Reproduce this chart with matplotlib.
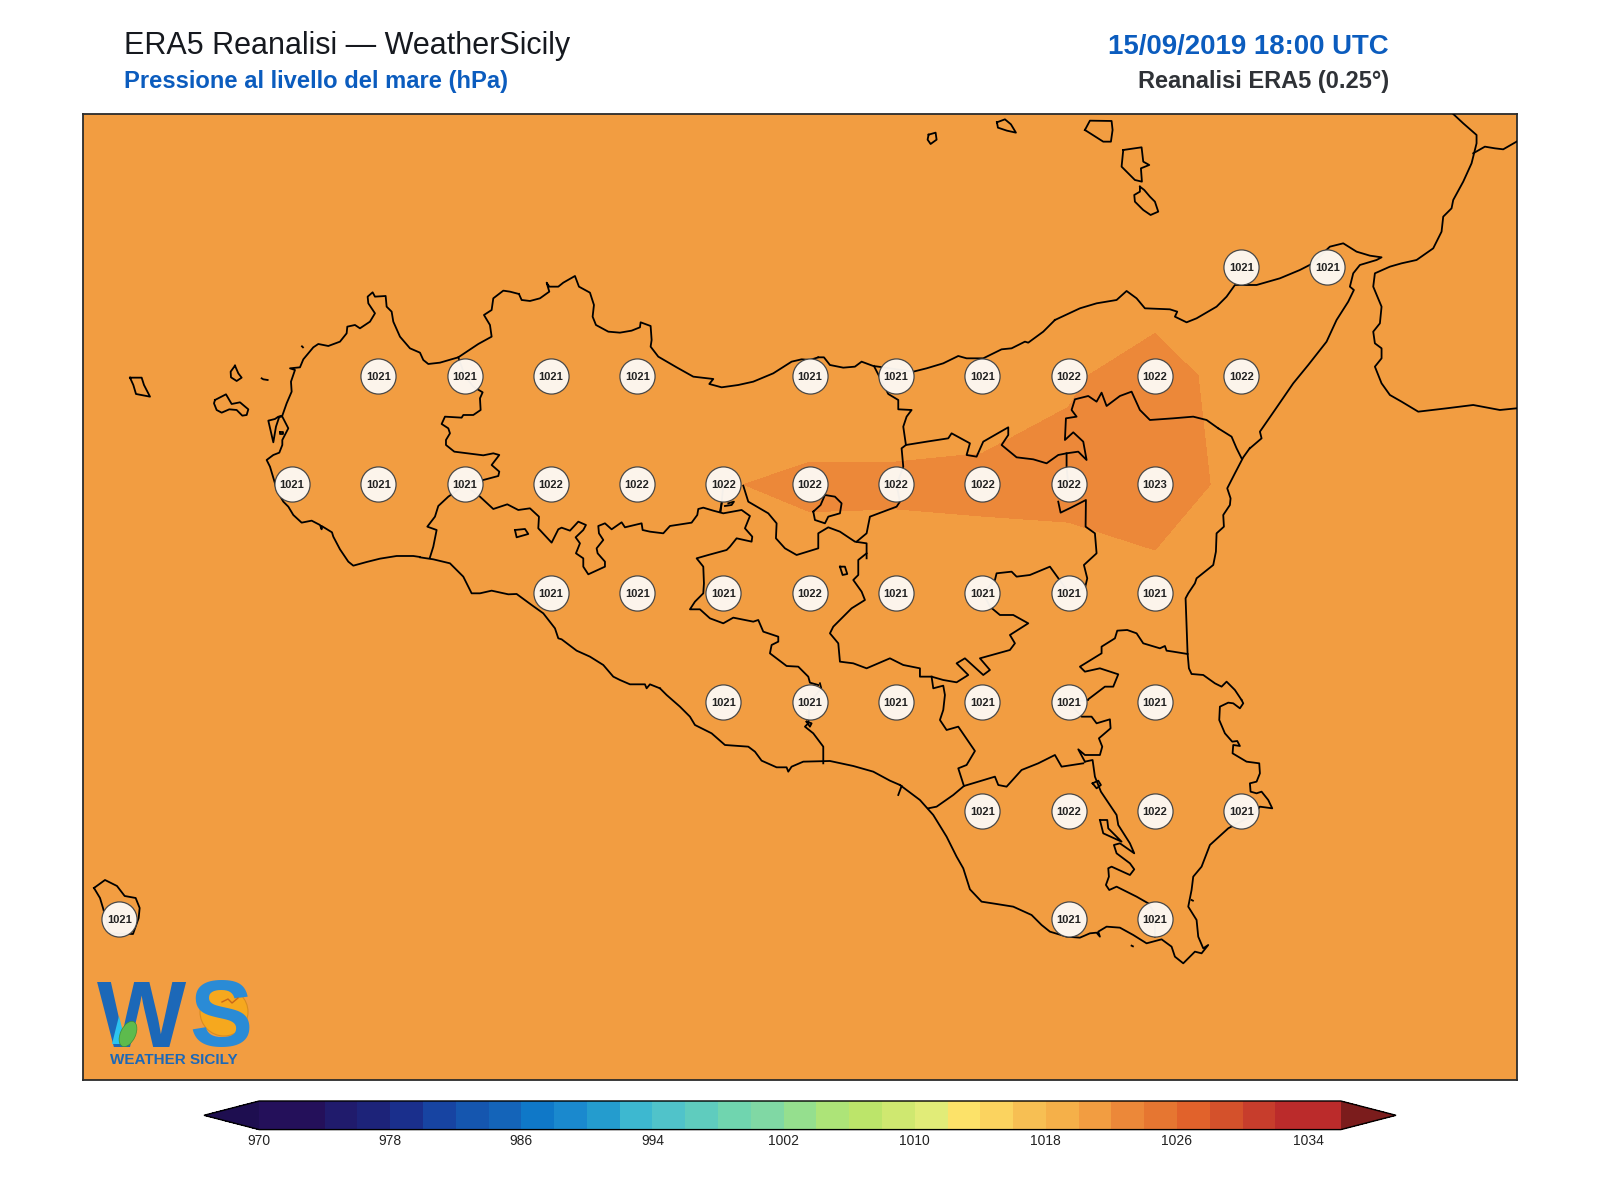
import numpy as np
import matplotlib
matplotlib.use('Agg')
import matplotlib.pyplot as plt
from matplotlib.colors import ListedColormap, BoundaryNorm
from matplotlib.patches import Circle, Ellipse, Polygon

plt.rcParams['font.family'] = ['Liberation Sans', 'DejaVu Sans']

# ERA5 grid, 0.25 deg
lons = [11.75 + 0.25 * i for i in range(19)]
lats = [38.75, 38.5, 38.25, 38.0, 37.75, 37.5, 37.25, 37.0, 36.75, 36.5, 36.25]
pressure = [
    [1021.1] * 19,
    [1021.1] * 12 + [1021.2, 1021.2, 1021.2, 1021.2, 1021.1, 1021.1, 1021.1],
    [1021.1] * 12 + [1021.3, 1021.4, 1021.4, 1021.3, 1021.2, 1021.1, 1021.1],
    [1021.1, 1021.1, 1021.1, 1021.1, 1021.2, 1021.2, 1021.2, 1021.2, 1021.3, 1021.38, 1021.23,
     1021.375, 1021.89, 1022.38, 1021.62, 1021.4, 1021.2, 1021.1, 1021.1],
    [1021.1, 1021.1, 1021.1, 1021.3, 1021.4, 1021.45, 1021.55, 1021.7, 1021.95, 1022.16, 1022.2,
     1022.25, 1022.27, 1022.8, 1021.55, 1021.4, 1021.2, 1021.1, 1021.1],
    [1021.1, 1021.1, 1021.1, 1021.2, 1021.2, 1021.3, 1021.3, 1021.4, 1021.45, 1021.52, 1021.31,
     1021.39, 1021.49, 1021.47, 1021.4, 1021.3, 1021.2, 1021.1, 1021.1],
    [1021.1, 1021.1, 1021.1, 1021.1, 1021.2, 1021.2, 1021.2, 1021.2, 1021.3, 1021.4, 1021.3,
     1021.3, 1021.4, 1021.4, 1021.3, 1021.2, 1021.1, 1021.1, 1021.1],
    [1021.1, 1021.1, 1021.1, 1021.1, 1021.1, 1021.1, 1021.2, 1021.2, 1021.2, 1021.3, 1021.3,
     1021.45, 1021.55, 1021.6, 1021.4, 1021.2, 1021.1, 1021.1, 1021.1],
    [1021.1, 1021.0, 1021.1, 1021.1, 1021.1, 1021.1, 1021.1, 1021.1, 1021.2, 1021.2, 1021.2,
     1021.2, 1021.3, 1021.3, 1021.2, 1021.1, 1021.1, 1021.1, 1021.1],
    [1021.1] * 19,
    [1021.1] * 19,
]

# grid points that carry a label
label_lons = {
    38.25: [15.25, 15.5],
    38.0: [12.75, 13.0, 13.25, 13.5, 14.0, 14.25, 14.5, 14.75, 15.0, 15.25],
    37.75: [12.5, 12.75, 13.0, 13.25, 13.5, 13.75, 14.0, 14.25, 14.5, 14.75, 15.0],
    37.5: [13.25, 13.5, 13.75, 14.0, 14.25, 14.5, 14.75, 15.0],
    37.25: [13.75, 14.0, 14.25, 14.5, 14.75, 15.0],
    37.0: [14.5, 14.75, 15.0, 15.25],
    36.75: [12.0, 14.75, 15.0],
}

levels = list(range(970, 1038, 2))
band_colors = ['#24105A', '#24105A', '#201B6C', '#1D2379', '#1A2F8C', '#1744A2', '#1556AF', '#1464B9',
               '#0F78C8', '#1A89CE', '#249CCE', '#3DB8D0', '#50C3CA', '#5FCCBE', '#70D5AF', '#80D8A4',
               '#95DF8E', '#ADE478', '#BCE56A', '#CFE870', '#E1EC78', '#FCE269', '#FBD35F', '#F7BF53',
               '#F5B049', '#F29D41', '#EC8839', '#E67631', '#E1622B', '#D4512B', '#C73D2C', '#BB2B2B',
               '#BB2B2B']
cbar_ticks = [970, 978, 986, 994, 1002, 1010, 1018, 1026, 1034]

# outlines, as 3x tile coordinates: tile origin, then points
tile_w = (120, 270)
tile_nw = (420, 270)
tile_c = (700, 320)
tile_ne = (1080, 110)
tile_e = (1040, 420)
tile_se = (900, 660)
tile_s = (660, 520)
tile_sw = (420, 440)

coast_w = [(900,861),(880,858),(830,858),(780,866),(740,876),(700,887),(685,875),(660,838),(640,800),(636,787),
           (605,768),(605,778),(600,765),(575,752),(545,758),(520,735),(505,710),(490,695),(470,660),(465,640),
           (450,590),(440,570),(460,555),(478,548),(487,525),(487,510),(505,475),(487,440),(475,440),(465,447),
           (445,452),(460,517),(468,470),(478,440),(487,437),(500,400),(515,365),(513,335),(525,300),(510,295),
           (540,292),(550,268),(580,232),(595,222),(625,228),(660,215),(680,190),(682,170),(705,165),(720,175),
           (750,155),(765,130),(745,100),(743,80),(758,67),(765,80),(797,78),(800,110),(815,125),(820,155),
           (840,200),(870,235),(900,248),(910,270),(925,282),(960,278),(1015,262),(1075,222),(1115,200),(1110,165),
           (1092,135),(1115,120),(1120,85),(1150,62),(1170,65),(1197,72)]
coast_nw = [(297,72),(305,90),(330,93),(360,85),(388,65),(380,38),(388,50),(415,50),(430,38),(465,18),(477,50),
            (510,68),(522,105),(518,140),(528,165),(565,185),(600,188),(635,182),(660,172),(662,157),(692,168),
            (695,210),(692,230),(715,260),(770,292),(820,320),(880,327),(868,342),(905,352),(955,345),(1000,335),
            (1060,310),(1115,275),(1145,268),(1170,270),(1195,262)]
coast_n = [(355,112),(372,112),(390,135),(430,143),(465,140),(485,125),(520,138),(535,140),(640,155),(680,145),
           (730,130),(775,108),(800,115),(850,115),(905,88),(935,85),(975,65),(985,68),(1030,35),(1065,0)]
coast_ne = [(-75,630),(0,595),(50,580),(110,570),(140,543),(170,565),(195,595),(270,598),(292,605),(285,620),
            (320,637),(350,625),(410,590),(440,560),(465,525),(530,525),(600,505),(660,480),(695,462),(750,410),
            (790,400),(830,425),(870,437),(905,442),(890,450),(840,465),(820,490),(810,530),(822,540),(805,575),
            (770,630),(740,695),(685,765),(640,820),(585,900),(540,965),(545,985),(510,1015)]
coast_e = [(630,84),(610,112),(585,160),(562,205),(572,235),(570,255),(550,285),(552,320),(530,340),(528,395),
           (520,435),(470,475),(465,490),(445,520),(437,535),(443,700),(447,745),(455,762),(490,765),(525,790),
           (545,800),(560,785),(585,810),(605,840)]
coast_se = [(1025,120),(1030,130),(1020,145),(1000,130),(985,128),(960,140),(958,180),(975,220),(997,245),(1012,243),
            (1020,258),(1000,255),(998,280),(1040,305),(1078,310),(1080,340),(1070,365),(1050,370),(1052,395),(1070,400),
            (1085,395),(1105,420),(1117,445),(1080,440),(1060,465),(985,505),(930,555),(905,620),(880,650),(875,690),
            (865,740),(890,780),(895,830),(910,865),(925,855),(905,880),(885,875),(850,910),(825,890),(815,860),
            (785,838),(740,850),(700,825),(660,803),(620,800),(595,815),(600,830),(590,818),(570,820),(540,833),
            (500,830),(450,815),(425,795),(395,765),(340,740),(290,732),(245,725),(210,688),(190,625),(170,590),
            (140,530),(100,465),(60,420),(0,375)]
coast_s = [(720,795),(690,782),(640,755),(580,738),(510,723),(430,725),(395,740),(385,755),(380,742),(350,742),
           (305,722),(285,695),(265,680),(195,675),(155,640),(105,615),(90,590),(60,560),(20,525),(0,505)]
coast_sw = [(720,745),(690,733),(680,745),(675,733),(630,733),(600,720),(580,710),(550,675),(510,650),(470,632),
            (425,598),(415,595),(405,565),(370,520),(335,495),(290,462),(265,463),(215,452),(180,460),(155,460),
            (130,410),(90,370),(40,358),(0,352)]
calabria = [(1120,12),(1150,40),(1190,75),(1190,100),(1175,160),(1150,215),(1120,270),(1115,295),(1090,320),(1085,365),
            (1060,415),(1010,450),(965,460),(930,470),(885,490),(880,530),(905,590),(900,640),(880,665),(885,700),
            (905,715),(905,745),(885,770),(905,820),(930,855),(965,875),(1015,905),(1100,895),(1180,885),(1260,900),
            (1310,895)]
calabria_inner = [(1180,130),(1215,110),(1245,115),(1270,118),(1310,95)]

marettimo = [(30,323),(65,323),(72,345),(90,380),(48,372),(40,345),(30,323)]
levanzo = [(345,287),(355,310),(365,323),(350,333),(333,322),(332,305),(345,287)]
favignana = [(285,390),(318,373),(335,402),(360,397),(385,418),(380,435),(367,437),(350,420),(328,418),(305,428),
             (290,420),(282,400),(285,390)]
formica = [(425,325),(430,328),(443,330)]
isola_fimmine = [(546,229),(549,232)]
stagnone_lake = [(480,485),(490,485),(490,493),(480,493),(480,485)]
panarea = [(15,60),(30,32),(95,33),(98,60),(93,95),(70,95),(15,60)]
lipari = [(130,120),(185,112),(190,155),(208,165),(183,175),(186,215),(165,210),(125,170),(130,120)]
vulcano = [(180,230),(193,240),(210,260),(225,275),(235,305),(212,315),(190,300),(165,275),(163,255),(180,245),(180,230)]
alicudi = [(26,44),(47,38),(50,59),(32,72),(23,59),(26,44)]
filicudi = [(21,37),(45,28),(63,43),(78,68),(51,62),(24,53),(21,37)]
pantelleria = [(12,54),(45,30),(81,48),(104,78),(137,84),(149,114),(146,144),(129,192),(60,190),(39,114),(30,84),(12,54)]

b_trapani = [(1015,262),(1035,318),(1060,350),(1088,367),(1080,385),(1082,420),(1060,435),(1030,435),(1025,443),(975,440),
             (965,462),(985,475),(990,490),(978,510),(978,525),(1003,545),(1090,556),(1120,550),(1138,555),(1115,585),
             (1138,605),(1135,618),(1090,630),(1035,645),(985,680),(955,708),(945,740),(922,770),(950,780),(940,830),
             (930,862)]
b_palermo = [(135,135),(180,170),(220,207),(262,193),(295,210),(330,205),(357,230),(355,265),(395,308),(415,268),
             (425,263),(450,272),(475,245),(498,255),(490,270),(467,292),(480,310),(468,340),(490,355),(490,380),
             (505,403),(555,380),(555,365),(533,340),(530,325),(550,300),(537,280),(535,258),(555,250),(575,268),
             (605,247),(615,262),(665,250),(668,270),(690,275),(730,280),(750,258),(815,248),(832,225),(835,207),
             (850,203),(880,212),(910,220),(965,210),(990,228),(975,265),(997,290),(995,305),(950,295),(930,320),
             (920,330),(865,345),(830,355),(850,380),(852,430),(850,460),(825,485),(810,508),(840,508),(870,535),
             (910,550),(940,533),(1000,545),(1015,540),(1030,575),(1075,590),(1075,605),(1055,615),(1050,640),(1100,678),
             (1135,680),(1165,710),(1170,728),(1195,735)]
b_madonie = [(910,135),(905,190),(900,215)]
b_madonie2 = [(925,190),(942,185),(935,195),(915,198)]
lake_sw = [(285,270),(315,267),(325,282),(290,292),(285,270)]
b_gela = [(480,490),(484,505),(450,547),(445,610),(435,620),(460,640),(490,680),(490,730)]
gela_loop = [(440,605),(455,610),(450,620),(440,605)]
b_enna_n = [(130,497),(145,545),(205,580),(230,610),(228,655),(255,685),(290,705),(355,685),(355,640),(385,622),
            (420,635),(465,665),(500,670),(500,715)]
b_enna_s = [(620,100),(595,120),(595,165),(580,180),(605,215),(615,240),(575,265),(520,320),(510,340),(535,370),
            (540,425),(580,430),(620,445),(690,415),(730,435),(780,445),(780,470),(815,470),(850,480),(890,487),
            (925,465),(890,430),(915,415),(970,465),(990,450),(960,415),(1050,390),(1065,370),(1050,345),(1105,310),
            (1060,285),(1020,285),(990,260),(970,220),(1005,180),(1010,160),(1055,155),(1070,170),(1110,165),(1170,140),
            (1228,220),(1270,205)]
b_caltagirone = [(815,470),(820,505),(850,497),(855,525),(850,570),(840,600),(860,630),(895,620),(945,693),(920,735),
                 (895,745),(912,798)]
b_ragusa = [(805,865),(830,860),(880,825),(912,798),(1005,770),(1015,795),(1040,800),(1085,750),(1135,730),(1185,705),
            (1205,740),(1270,730)]
b_river = [(725,798),(715,825)]
lake_s = [(540,140),(555,140),(562,162),(548,165),(540,140)]
b_etna = [(135,505),(142,475),(132,435),(170,400),(165,340),(137,320),(138,240),(95,262),(62,278),(55,245)]
b_messina_end = [(535,25),(575,50),(590,85),(605,115)]
b_catania = [(443,702),(400,695),(380,692),(375,678),(360,685),(310,670),(290,640),(262,630),(232,632),(225,655),
             (185,680),(185,700),(120,740),(135,755),(180,745),(235,763),(220,800),(195,800),(145,838)]
b_siracusa = [(564,120),(507,128),(545,170),(575,170),(590,190),(630,178),(632,205),(597,235),(607,260),(600,285),
              (555,285),(535,268),(555,305)]
b_ragusa2 = [(555,305),(578,300),(585,350),(603,395),(650,465),(655,495),(690,550),(703,580),(660,550),(642,555),
             (650,580),(690,610),(703,628),(690,645),(635,620),(625,625),(627,650),(618,675),(628,690),(650,680),
             (710,710),(745,730),(765,760),(765,830)]
lagoon = [(600,480),(622,480),(625,505),(665,545),(610,520),(600,480)]
pond = [(578,370),(595,362),(603,375),(590,385),(578,370)]
dot_a = [(695,857),(699,859)]
dot_b = [(875,720),(879,722)]
b_messina = [(522,138),(565,222),(595,240),(595,268),(635,270),(620,290),(610,320),(618,375),(605,385),(610,440),
             (590,495),(600,545),(590,560),(510,590),(500,640),(470,665)]
b_nebrodi = [(618,375),(680,365),(745,355),(755,340),(810,370),(800,405),(830,410),(850,365),(890,342),(925,322),
             (925,345),(905,375),(950,412),(1000,418),(1040,430),(1075,405),(1100,400),(1135,395),(1160,420),(1150,365),
             (1120,337),(1095,360),(1098,295),(1130,290),(1115,270),(1125,238),(1165,228),(1190,245),(1205,218),(1220,258),
             (1260,228),(1295,215),(1320,270),(1350,300),(1420,295),(1480,290),(1520,300),(1555,325)]
b_nicosia = [(1100,400),(1100,440),(1105,495)]
enclave = [(340,575),(345,600),(375,610),(385,590),(420,580),(425,550),(405,530),(375,525),(362,555),(340,575)]
stub = [(65,550),(62,575)]

outlines = [
    (tile_w, [coast_w, marettimo, levanzo, favignana, formica, isola_fimmine, stagnone_lake, b_trapani]),
    (tile_nw, [coast_nw]),
    (tile_c, [coast_n, b_enna_n, b_messina, b_nebrodi, b_nicosia, enclave, stub]),
    (tile_ne, [coast_ne, calabria, calabria_inner, panarea, lipari, vulcano]),
    (tile_e, [coast_e, b_etna, b_messina_end, b_catania]),
    (tile_se, [coast_se, b_siracusa, b_ragusa2, lagoon, pond, dot_a, dot_b]),
    (tile_s, [coast_s, b_gela, gela_loop, b_enna_s, b_caltagirone, b_ragusa, b_river, lake_s]),
    (tile_sw, [coast_sw, b_palermo, b_madonie, b_madonie2, lake_sw]),
    ((920, 120), [alicudi]),
    ((990, 110), [filicudi]),
    ((90, 870), [pantelleria]),
]


def tile_to_lonlat(tile, pts):
    pts = np.array(pts, dtype=float)
    px = tile[0] + pts[:, 0] / 3
    py = tile[1] + pts[:, 1] / 3
    return 12 + (px - 119.4) / 345.2, 36.75 + (919.4 - py) / 434.9


W, H = 1600, 1200
fig = plt.figure(figsize=(16, 12), dpi=100)
ax = fig.add_axes([82.7 / W, 1 - 1080 / H, (1517 - 82.7) / W, (1080 - 114.3) / H])

cmap = ListedColormap(band_colors)
cmap.set_under('#1E0E50')
cmap.set_over('#7B1C1C')
norm = BoundaryNorm(levels, cmap.N)
cf = ax.contourf(lons, lats, pressure, levels=levels, cmap=cmap, norm=norm, extend='both')

for tile, shapes in outlines:
    for shape in shapes:
        x, y = tile_to_lonlat(tile, shape)
        ax.plot(x, y, color='black', lw=1.3, zorder=3, solid_joinstyle='round')

for lat, row_lons in label_lons.items():
    for lon in row_lons:
        val = pressure[lats.index(lat)][lons.index(lon)]
        ax.scatter(lon, lat, s=640, facecolor='#FDF8F2', edgecolor='#444444', linewidth=0.9, alpha=0.97, zorder=4)
        ax.text(lon, lat, '%.0f' % val, ha='center', va='center_baseline', fontsize=8, fontweight='bold',
                color='#222222', zorder=5)

ax.set_xlim(11.8937, 16.049)
ax.set_ylim(36.3807, 38.6012)
ax.set_xticks([])
ax.set_yticks([])
for s in ax.spines.values():
    s.set_linewidth(1.3)
    s.set_color('#2b2b2b')

cax = fig.add_axes([204 / W, 1 - 1129.6 / H, 1192 / W, 28.6 / H])
cb = fig.colorbar(cf, cax=cax, orientation='horizontal', extend='both', extendfrac=0.051, ticks=cbar_ticks)
cb.ax.minorticks_off()
cb.ax.tick_params(which='both', length=0, labelsize=10, pad=3, colors='#222222')
cb.outline.set_linewidth(1.0)

fig.text(124 / W, 1 - 54 / H, 'ERA5 Reanalisi \u2014 WeatherSicily', fontsize=22, color='#16191f')
fig.text(124 / W, 1 - 88 / H, 'Pressione al livello del mare (hPa)', fontsize=17.1, fontweight='bold', color='#0B5CBE')
fig.text(1389 / W, 1 - 54 / H, '15/09/2019 18:00 UTC', fontsize=19.9, fontweight='bold', color='#0B5CBE', ha='right')
fig.text(1389 / W, 1 - 88 / H, 'Reanalisi ERA5 (0.25\u00b0)', fontsize=17, fontweight='bold', color='#2f3237', ha='right')

# logo
logo = fig.add_axes([0, 0, 1, 1], facecolor='none')
logo.set_xlim(0, W)
logo.set_ylim(H, 0)
logo.axis('off')
logo.add_patch(Circle((224, 1012), 24, facecolor='#F6A81E', edgecolor='#D98C20', lw=0.8, zorder=1))
logo.text(97, 1047, 'W', fontsize=68, fontweight='bold', color='#1C68B8', va='baseline', zorder=2)
logo.text(189, 1046, 'S', fontsize=68, fontweight='bold', color='#2A8BD6', va='baseline', zorder=2)
logo.add_patch(Polygon([(119, 1016), (126, 1044), (112, 1044)], facecolor='#2CC4F0', edgecolor='none', zorder=3))
logo.add_patch(Ellipse((128, 1034), 15, 27, angle=25, facecolor='#5DBB4D', edgecolor='#3E8E35', lw=0.5, zorder=4))
logo.plot([222, 228, 232, 238], [1002, 999, 1003, 998], color='#C8661A', lw=1, zorder=4)
logo.text(174, 1060, 'WEATHER SICILY', fontsize=11, fontweight='bold', color='#1C68B8', ha='center', va='center', zorder=4)

fig.savefig('out.png', dpi=100)
